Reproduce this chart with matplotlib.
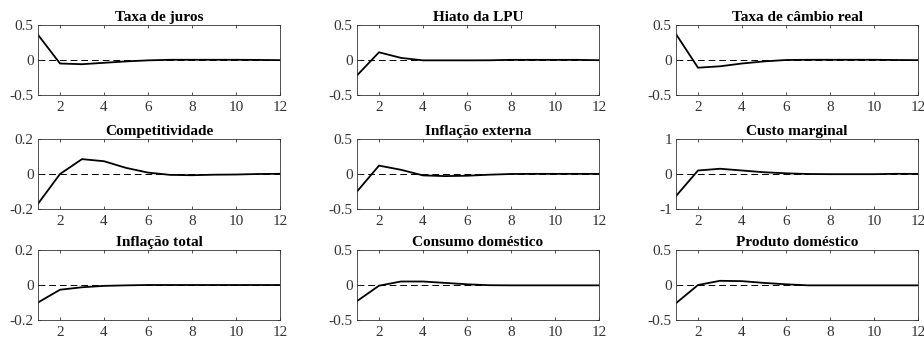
import matplotlib
matplotlib.use("Agg")
import matplotlib.pyplot as plt
from matplotlib.ticker import FuncFormatter

plt.rcParams["font.family"] = ["Liberation Serif", "DejaVu Serif"]
plt.rcParams["axes.unicode_minus"] = False

periods = list(range(1, 13))

titles = [
    "Taxa de juros", "Hiato da LPU", "Taxa de câmbio real",
    "Competitividade", "Inflação externa", "Custo marginal",
    "Inflação total", "Consumo doméstico", "Produto doméstico",
]

taxa_juros = [0.36, -0.05, -0.06, -0.04, -0.02, -0.005, 0.003, 0.003, 0.003, 0.003, 0.001, -0.002]
hiato_lpu = [-0.22, 0.11, 0.03, -0.005, -0.005, -0.005, -0.004, 0.002, 0.002, 0.002, 0.002, -0.003]
cambio_real = [0.37, -0.11, -0.09, -0.05, -0.02, 0.0, 0.003, 0.003, 0.003, 0.003, 0.0, -0.002]
competitividade = [-0.17, 0.0, 0.085, 0.073, 0.035, 0.008, -0.005, -0.007, -0.004, -0.003, 0.0, 0.001]
inflacao_externa = [-0.25, 0.12, 0.06, -0.02, -0.03, -0.025, -0.01, 0.0, 0.002, 0.002, 0.002, 0.002]
custo_marginal = [-0.63, 0.1, 0.15, 0.1, 0.05, 0.02, 0.0, -0.005, -0.005, -0.005, 0.005, 0.003]
inflacao_total = [-0.1, -0.027, -0.013, -0.005, -0.002, 0.0, 0.0, 0.0, 0.0, 0.0, 0.0, 0.0]
consumo_domestico = [-0.23, -0.01, 0.05, 0.05, 0.03, 0.01, -0.003, -0.005, -0.005, -0.005, -0.005, -0.005]
produto_domestico = [-0.26, 0.0, 0.06, 0.055, 0.03, 0.01, -0.005, -0.005, -0.005, -0.005, -0.005, -0.005]

series = [taxa_juros, hiato_lpu, cambio_real,
          competitividade, inflacao_externa, custo_marginal,
          inflacao_total, consumo_domestico, produto_domestico]

ylims = [0.5, 0.5, 0.5, 0.2, 0.5, 1, 0.2, 0.5, 0.5]

W, H = 924, 340
col_left = [38, 357, 676]
col_width = 242
row_top = [25, 139, 250]
row_height = 70


def fmt(v, pos):
    if abs(v) < 1e-9:
        return "0"
    return "%g" % v


fig = plt.figure(figsize=(W / 100, H / 100), dpi=100)

for i, (title, values, lim) in enumerate(zip(titles, series, ylims)):
    r, c = divmod(i, 3)
    left = col_left[c] / W
    bottom = 1 - (row_top[r] + row_height) / H
    ax = fig.add_axes([left, bottom, col_width / W, row_height / H])

    ax.axhline(0, color="black", linestyle=(0, (7, 4)), linewidth=0.7, zorder=1)
    ax.plot(periods, values, color="black", linewidth=1.3, zorder=2)

    ax.set_xlim(1, 12)
    ax.set_ylim(-lim, lim)
    ax.set_xticks([2, 4, 6, 8, 10, 12])
    ax.set_yticks([-lim, 0, lim])
    ax.yaxis.set_major_formatter(FuncFormatter(fmt))
    ax.tick_params(direction="in", top=True, right=True, length=2.5,
                   width=0.6, labelsize=11, colors="#333333")
    ax.tick_params(axis="x", pad=4)
    ax.tick_params(axis="y", pad=3)
    for s in ax.spines.values():
        s.set_linewidth(0.6)
        s.set_color("#333333")
    ax.set_title(title, fontsize=11, fontweight="bold", pad=3)

fig.savefig("out.png", dpi=100)
